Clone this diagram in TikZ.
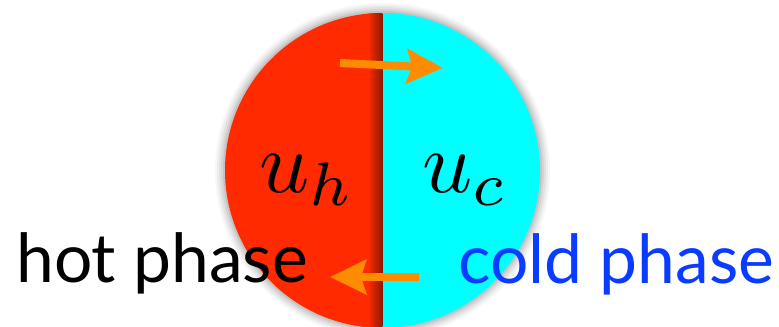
\documentclass[tikz,border=0pt]{standalone}
\usepackage{fontspec}
\setsansfont{Lato}
\usetikzlibrary{arrows.meta}
\definecolor{hotred}{RGB}{255,42,0}
\definecolor{coldcyan}{RGB}{0,255,255}
\definecolor{arrorange}{RGB}{255,140,0}
\definecolor{coldblue}{RGB}{10,60,255}
\definecolor{divdark}{RGB}{140,25,0}
\begin{document}
\begin{tikzpicture}[x=1bp,y=-1bp,
  flow/.style={draw=arrorange, line width=8bp, -{Stealth[length=36bp,width=34bp,inset=5bp]}},
  lbl/.style={font=\sffamily\fontsize{68}{68}\selectfont, anchor=base west, inner sep=0},
  mathlbl/.style={anchor=base west, inner sep=0}]
\useasboundingbox (0,0) rectangle (779,326);
\coordinate (c) at (382.5,170.5);
% soft shadow
\foreach \k/\o in {10/0.03, 8/0.04, 6/0.05, 4/0.06, 2/0.08}
  \fill[black, opacity=\o] (c) circle[radius=157.5+\k];
% two halves
\begin{scope}
  \clip (c) circle[radius=157.5];
  \fill[hotred] (200,0) rectangle (382.3,340);
  \fill[coldcyan] (382.3,0) rectangle (560,340);
  \shade[left color=hotred, right color=divdark] (368,0) rectangle (382.3,340);
\end{scope}
% labels
\node[mathlbl] (uh) at (259,192) {\scalebox{8.8}{$u_h$}};
\node[mathlbl] (uc) at (422,192) {\scalebox{8.8}{$u_c$}};
% arrows
\coordinate (a1s) at (340,63);
\coordinate (a1e) at (443,68);
\draw[flow] (a1s) -- (a1e);
\coordinate (a2s) at (419,277);
\coordinate (a2e) at (330,277);
\draw[flow] (a2s) -- (a2e);
% phase names
\node[lbl] (hot) at (16,282) {hot phase};
\node[lbl, text=coldblue] (cold) at (458,283) {cold phase};
\end{tikzpicture}
\end{document}
